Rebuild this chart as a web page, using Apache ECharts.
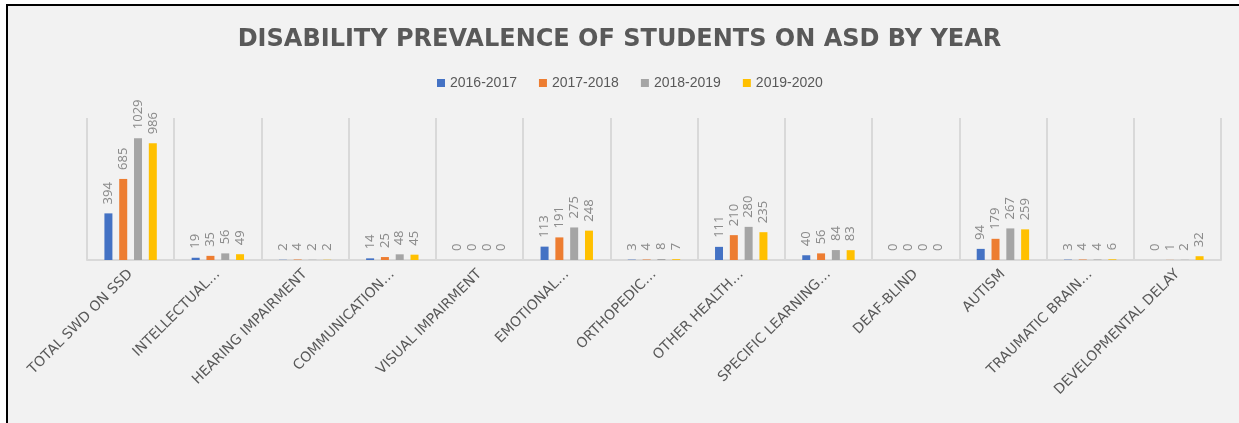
<!DOCTYPE html>
<html>
<head>
<meta charset="utf-8">
<script src="https://cdn.jsdelivr.net/npm/echarts@6/dist/echarts.min.js"></script>
<style>
html, body { margin: 0; padding: 0; background: #ffffff; overflow: hidden; }
#frame { position: absolute; left: 6px; top: 4px; width: 1240px; height: 425px; border: 2px solid #000; background: #f2f2f2; }
#chart { position: absolute; left: 0; top: 0; width: 1239px; height: 423px; }
</style>
</head>
<body>
<div id="frame"></div>
<div id="chart"></div>
<script>
const titleText = 'DISABILITY PREVALENCE OF STUDENTS ON ASD BY YEAR';
const categories = [
  'TOTAL SWD ON SSD', 'INTELLECTUAL…', 'HEARING IMPAIRMENT', 'COMMUNICATION…',
  'VISUAL IMPAIRMENT', 'EMOTIONAL…', 'ORTHOPEDIC…', 'OTHER HEALTH…',
  'SPECIFIC LEARNING…', 'DEAF-BLIND', 'AUTISM', 'TRAUMATIC BRAIN…', 'DEVELOPMENTAL DELAY'
];
const seriesNames = ['2016-2017', '2017-2018', '2018-2019', '2019-2020'];
const values2016 = [394, 19, 2, 14, 0, 113, 3, 111, 40, 0, 94, 3, 0];
const values2017 = [685, 35, 4, 25, 0, 191, 4, 210, 56, 0, 179, 4, 1];
const values2018 = [1029, 56, 2, 48, 0, 275, 8, 280, 84, 0, 267, 4, 2];
const values2019 = [986, 49, 2, 45, 0, 248, 7, 235, 83, 0, 259, 6, 32];
const colors = ['#4472C4', '#ED7D31', '#A5A5A5', '#FFC000'];
const allValues = [values2016, values2017, values2018, values2019];

const chart = echarts.init(document.getElementById('chart'), null, { renderer: 'canvas' });
const series = seriesNames.map((name, i) => ({
  name: name,
  type: 'bar',
  data: allValues[i],
  barWidth: 8,
  barGap: '85%',
  itemStyle: { color: colors[i] },
  label: {
    show: true,
    position: 'top',
    rotate: 90,
    align: 'left',
    verticalAlign: 'middle',
    distance: 9,
    color: '#8c8c8c',
    fontSize: 13,
    fontFamily: 'Noto Sans'
  }
}));

chart.setOption({
  backgroundColor: 'transparent',
  animation: false,
  color: colors,
  title: {
    text: titleText,
    left: 'center',
    top: 23,
    textStyle: { fontFamily: 'DejaVu Sans', fontWeight: 'bold', fontSize: 24, color: '#595959' }
  },
  legend: {
    data: seriesNames,
    left: 432,
    top: 71,
    itemWidth: 8,
    itemHeight: 8,
    itemGap: 22,
    icon: 'rect',
    textStyle: { fontFamily: 'Liberation Sans', fontSize: 14, color: '#595959' }
  },
  grid: { left: 87, right: 18, top: 118, bottom: 163, containLabel: false },
  xAxis: {
    type: 'category',
    data: categories,
    axisTick: { show: false },
    axisLine: { lineStyle: { color: '#d9d9d9', width: 2 } },
    splitLine: { show: true, lineStyle: { color: '#d9d9d9', width: 2 } },
    axisLabel: {
      interval: 0,
      rotate: 45,
      margin: 12,
      color: '#595959',
      fontSize: 14,
      fontFamily: 'DejaVu Sans'
    }
  },
  yAxis: {
    type: 'value',
    min: 0,
    max: 1200,
    interval: 200,
    show: false,
    splitLine: { show: false }
  },
  series: series
});
</script>
</body>
</html>
